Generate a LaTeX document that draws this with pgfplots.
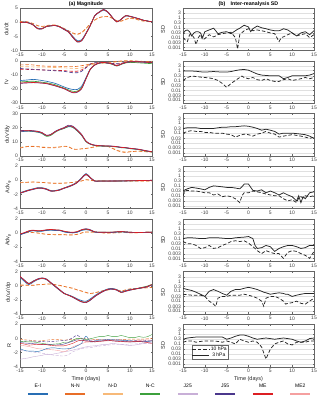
\documentclass[border=0pt]{standalone}
\usepackage{fontspec}
\setmainfont{Liberation Sans}
\usepackage{pgfplots}
\usepackage{pgfplotstable}
\pgfplotsset{compat=1.18}

\definecolor{cEI}{RGB}{40,110,180}
\definecolor{cNN}{RGB}{232,110,40}
\definecolor{cND}{RGB}{247,185,120}
\definecolor{cNC}{RGB}{60,160,60}
\definecolor{cJ25}{RGB}{200,175,215}
\definecolor{cJ55}{RGB}{75,55,140}
\definecolor{cME}{RGB}{220,30,35}
\definecolor{cME2}{RGB}{245,160,160}

% left column: x, solid 3 hPa curves, dashed 10 hPa curves
\pgfplotstableread{
x EI NC J55 ME NN ND
-15 -0.1 -0.2 -0.2 -0.2 0.2 0.0
-14 0.1 0.0 0.0 0.0 0.3 0.2
-13 -0.2 -0.3 -0.3 -0.3 0.0 -0.1
-12 -0.9 -1.0 -1.0 -1.0 -0.5 -0.6
-11 -2.1 -2.3 -2.3 -2.3 -1.2 -1.3
-10 -2.2 -2.3 -2.4 -2.3 -1.5 -1.6
-9 -1.5 -1.6 -1.5 -1.5 -1.2 -1.3
-8 -1.3 -1.3 -1.3 -1.3 -1.0 -1.1
-7 -1.2 -1.2 -1.2 -1.2 -1.0 -1.1
-6 -1.6 -1.6 -1.7 -1.6 -1.5 -1.6
-5 -2.4 -2.5 -2.6 -2.5 -2.2 -2.4
-4 -3.2 -3.4 -3.5 -3.4 -3.0 -3.2
-3 -5.0 -5.3 -5.4 -5.3 -3.8 -4.0
-2 -6.5 -6.8 -7.0 -6.9 -4.2 -4.4
-1 -6.2 -6.5 -6.6 -6.5 -3.6 -3.8
0 -3.8 -4.0 -4.1 -4.0 -2.2 -2.4
1 -1.0 -1.1 -1.1 -1.1 -0.5 -0.6
2 2.2 2.3 2.3 2.3 0.8 0.7
3 3.4 3.5 3.6 3.5 1.6 1.5
4 4.2 4.4 4.5 4.4 2.0 1.9
5 3.4 3.5 3.6 3.5 2.0 1.9
6 1.6 1.6 1.7 1.6 1.4 1.3
7 0.2 0.1 0.1 0.1 0.5 0.4
8 1.0 1.0 1.1 1.0 0.4 0.3
9 2.2 2.3 2.3 2.3 1.0 0.9
10 2.0 2.0 2.1 2.0 1.4 1.3
11 1.6 1.6 1.7 1.6 1.2 1.1
12 1.2 1.2 1.2 1.2 0.8 0.7
13 0.7 0.7 0.7 0.7 0.4 0.4
14 0.4 0.4 0.4 0.4 0.3 0.2
15 0.1 0.1 0.1 0.1 0.2 0.1
}\tA

\pgfplotstableread{
x EI NC J55 ME NN ND J55d MEd
-15 -14.0 -15.0 -16.0 -15.8 -3.0 -4.2 -5.5 -6.0
-14 -13.8 -14.8 -15.8 -15.6 -2.9 -4.3 -5.7 -6.1
-13 -13.5 -14.6 -15.6 -15.5 -2.8 -4.3 -5.9 -6.2
-12 -13.2 -14.5 -15.5 -15.4 -3.0 -4.4 -6.1 -6.3
-11 -13.5 -14.8 -15.6 -15.5 -3.5 -4.5 -6.3 -6.4
-10 -14.0 -15.2 -15.8 -15.8 -3.7 -4.5 -6.5 -6.5
-9 -14.5 -15.6 -16.2 -16.0 -3.9 -4.6 -6.7 -6.6
-8 -15.2 -16.2 -17.0 -16.8 -3.9 -4.7 -6.9 -6.7
-7 -16.0 -17.0 -17.8 -17.6 -3.9 -4.8 -7.1 -6.8
-6 -17.2 -18.2 -18.8 -18.6 -4.0 -4.9 -7.3 -6.9
-5 -18.5 -19.3 -19.8 -19.6 -4.2 -5.0 -7.5 -7.0
-4 -19.6 -20.6 -21.3 -21.2 -4.2 -5.2 -8.0 -7.3
-3 -20.3 -21.6 -22.6 -22.4 -4.2 -5.4 -8.5 -7.5
-2 -20.3 -21.5 -22.3 -22.0 -4.0 -5.5 -8.5 -7.4
-1 -18.0 -19.0 -19.8 -19.6 -3.5 -5.0 -7.5 -6.5
0 -12.0 -12.5 -12.8 -12.7 -3.0 -4.0 -5.0 -4.5
1 -5.8 -6.0 -6.0 -5.9 -2.3 -3.0 -2.5 -2.2
2 -3.0 -3.0 -3.1 -3.0 -2.0 -2.5 -1.5 -1.6
3 -1.6 -1.7 -1.7 -1.6 -1.6 -2.0 -1.4 -1.4
4 -1.2 -1.4 -1.3 -1.2 -1.4 -1.7 -1.4 -1.5
5 -1.6 -1.8 -1.7 -1.6 -1.2 -1.5 -1.6 -1.7
6 -2.3 -2.6 -2.4 -2.3 -0.9 -1.2 -1.9 -2.0
7 -3.5 -3.8 -3.6 -3.5 -0.5 -0.9 -2.2 -2.4
8 -2.3 -2.6 -2.4 -2.3 -0.2 -0.6 -1.8 -2.0
9 -1.2 -1.6 -1.3 -1.2 0.0 -0.4 -1.2 -1.4
10 -0.7 -1.2 -0.8 -0.7 0.0 -0.3 -0.8 -1.0
11 -0.6 -1.3 -0.7 -0.7 -0.2 -0.4 -0.7 -0.9
12 -0.7 -1.5 -0.8 -0.7 -0.3 -0.5 -0.8 -0.9
13 -0.9 -1.7 -1.0 -0.9 -0.5 -0.6 -0.9 -1.0
14 -1.1 -1.9 -1.2 -1.1 -0.6 -0.7 -1.0 -1.0
15 -1.2 -2.1 -1.3 -1.2 -0.7 -0.8 -1.0 -1.1
}\tB

\pgfplotstableread{
x EI NC J55 ME NN ND
-15 17.0 17.5 17.8 17.5 5.5 6.0
-14 17.3 17.6 18.0 17.7 6.2 6.5
-13 17.5 17.5 18.0 17.8 6.7 6.8
-12 17.3 17.2 17.8 17.6 6.6 6.9
-11 16.8 16.8 17.4 17.2 6.5 6.7
-10 16.0 15.8 16.5 16.3 6.0 6.4
-9 14.3 13.8 14.6 14.5 5.8 6.1
-8 15.0 14.5 15.2 15.0 5.8 6.0
-7 17.0 16.7 17.3 17.1 5.8 6.2
-6 18.5 18.3 18.8 18.6 6.2 6.5
-5 19.5 19.3 20.0 19.7 6.7 6.8
-4 20.8 20.6 21.6 21.2 6.5 6.6
-3 20.3 20.1 21.0 20.6 4.8 5.0
-2 17.8 17.6 18.4 18.0 4.6 4.8
-1 14.6 14.5 15.2 14.9 5.0 5.0
0 10.2 10.0 10.5 10.3 5.3 5.2
1 8.3 8.2 8.5 8.4 5.8 5.6
2 7.4 7.3 7.6 7.5 6.5 6.2
3 7.1 7.0 7.3 7.2 7.2 6.8
4 6.9 6.8 7.1 7.0 7.2 7.0
5 6.9 6.8 7.1 7.0 6.7 6.6
6 6.7 6.6 6.9 6.8 5.3 5.6
7 6.4 6.3 6.6 6.5 3.8 4.2
8 5.9 5.8 6.1 6.0 2.9 3.3
9 5.7 5.6 5.9 5.8 2.4 2.8
10 5.2 5.1 5.4 5.3 2.9 3.0
11 4.9 4.8 5.1 5.0 3.2 3.2
12 4.5 4.4 4.7 4.6 3.4 3.3
13 3.9 3.8 4.1 4.0 3.1 3.0
14 3.3 3.2 3.5 3.4 2.9 2.8
15 2.8 2.7 3.0 2.9 2.9 2.7
}\tC

\pgfplotstableread{
x EI NC J55 ME NN ND
-15 -1.75 -1.85 -1.85 -1.8 -0.35 -0.3
-14 -1.55 -1.6 -1.65 -1.6 -0.32 -0.28
-13 -1.35 -1.4 -1.45 -1.4 -0.28 -0.25
-12 -1.2 -1.25 -1.3 -1.25 -0.25 -0.25
-11 -1.05 -1.1 -1.15 -1.1 -0.27 -0.28
-10 -1.05 -1.1 -1.15 -1.1 -0.3 -0.32
-9 -1.2 -1.25 -1.3 -1.25 -0.35 -0.36
-8 -1.45 -1.5 -1.55 -1.5 -0.4 -0.4
-7 -1.45 -1.5 -1.5 -1.5 -0.42 -0.42
-6 -1.3 -1.35 -1.4 -1.35 -0.42 -0.42
-5 -1.1 -1.1 -1.15 -1.1 -0.4 -0.4
-4 -0.85 -0.9 -0.95 -0.9 -0.36 -0.36
-3 -0.6 -0.65 -0.7 -0.65 -0.3 -0.3
-2 -0.25 -0.3 -0.35 -0.3 -0.2 -0.22
-1 0.35 0.3 0.25 0.3 -0.1 -0.1
0 0.95 0.85 0.8 0.85 0.1 0.05
1 0.4 0.35 0.3 0.35 0.0 -0.02
2 -0.1 -0.1 -0.12 -0.1 -0.08 -0.1
3 -0.1 -0.12 -0.12 -0.1 -0.1 -0.1
4 -0.1 -0.1 -0.12 -0.1 -0.1 -0.1
5 -0.1 -0.12 -0.12 -0.1 -0.1 -0.12
6 -0.1 -0.12 -0.1 -0.1 -0.1 -0.12
7 -0.1 -0.1 -0.1 -0.1 -0.1 -0.1
8 -0.08 -0.1 -0.1 -0.08 -0.1 -0.1
9 -0.08 -0.08 -0.1 -0.08 -0.1 -0.1
10 -0.06 -0.08 -0.08 -0.06 -0.1 -0.1
11 -0.05 -0.06 -0.08 -0.05 -0.1 -0.1
12 -0.04 -0.05 -0.06 -0.04 -0.1 -0.1
13 -0.03 -0.04 -0.05 -0.03 -0.1 -0.1
14 -0.02 -0.03 -0.04 -0.02 -0.1 -0.1
15 0.0 -0.02 -0.02 0.0 -0.1 -0.1
}\tD

\pgfplotstableread{
x EI NC J55 ME NN ND
-15 -0.25 -0.2 -0.2 -0.15 -0.2 -0.15
-14 -0.05 0.0 0.0 0.05 -0.05 0.0
-13 0.2 0.25 0.25 0.3 0.1 0.1
-12 0.3 0.35 0.35 0.4 0.05 0.05
-11 0.25 0.25 0.3 0.3 0.0 0.0
-10 0.25 0.3 0.3 0.35 -0.1 -0.1
-9 0.35 0.4 0.4 0.45 -0.2 -0.15
-8 0.4 0.45 0.45 0.5 -0.22 -0.2
-7 0.35 0.4 0.4 0.45 -0.25 -0.2
-6 0.35 0.4 0.4 0.4 -0.25 -0.22
-5 0.15 0.2 0.2 0.25 -0.25 -0.22
-4 0.05 0.1 0.1 0.15 -0.3 -0.25
-3 0.0 0.05 0.05 0.1 -0.28 -0.25
-2 0.1 0.15 0.15 0.2 -0.2 -0.18
-1 0.35 0.4 0.45 0.45 0.0 0.0
0 0.45 0.5 0.6 0.55 0.15 0.1
1 0.35 0.4 0.45 0.4 0.15 0.1
2 0.1 0.15 0.15 0.15 0.1 0.1
3 0.05 0.1 0.1 0.1 0.05 0.05
4 0.05 0.1 0.1 0.1 0.0 0.02
5 0.05 0.1 0.08 0.1 0.0 0.0
6 0.08 0.1 0.1 0.12 0.0 0.02
7 0.12 0.15 0.15 0.16 0.02 0.05
8 0.15 0.2 0.2 0.2 0.05 0.08
9 0.1 0.15 0.15 0.15 0.05 0.05
10 0.08 0.1 0.1 0.1 0.02 0.02
11 0.05 0.08 0.08 0.08 0.0 0.02
12 0.05 0.06 0.06 0.05 0.05 0.05
13 0.06 0.08 0.08 0.08 0.08 0.08
14 0.08 0.1 0.1 0.1 0.1 0.1
15 0.1 0.1 0.12 0.1 0.1 0.12
}\tE

\pgfplotstableread{
x EI NC J55 ME NN ND
-15 1.2 1.3 1.3 1.3 0.05 0.1
-14 0.6 0.75 0.8 0.75 0.05 0.1
-13 0.15 0.3 0.3 0.25 0.05 0.1
-12 0.5 0.65 0.65 0.6 0.05 0.05
-11 0.85 0.9 0.95 0.9 0.15 0.1
-10 1.0 1.05 1.1 1.05 0.15 0.15
-9 0.85 0.9 0.95 0.9 0.25 0.2
-8 0.35 0.4 0.45 0.4 0.25 0.2
-7 -0.15 -0.1 -0.05 -0.1 0.15 0.1
-6 -0.65 -0.6 -0.55 -0.6 0.05 0.0
-5 -1.1 -1.1 -1.05 -1.1 -0.1 -0.1
-4 -1.3 -1.35 -1.35 -1.35 -0.25 -0.25
-3 -1.55 -1.6 -1.65 -1.6 -0.35 -0.4
-2 -1.85 -1.95 -2.0 -1.95 -0.6 -0.6
-1 -2.1 -2.25 -2.3 -2.25 -0.75 -0.8
0 -2.2 -2.35 -2.4 -2.35 -0.95 -1.0
1 -1.85 -2.0 -2.05 -2.0 -1.1 -1.1
2 -1.4 -1.5 -1.55 -1.5 -1.0 -1.0
3 -1.0 -1.1 -1.15 -1.1 -0.85 -0.85
4 -0.7 -0.75 -0.8 -0.75 -0.7 -0.7
5 -0.45 -0.5 -0.55 -0.5 -0.6 -0.6
6 -0.4 -0.45 -0.5 -0.45 -0.5 -0.5
7 -0.55 -0.6 -0.65 -0.6 -0.6 -0.6
8 -0.9 -0.95 -0.95 -0.95 -0.75 -0.75
9 -0.7 -0.75 -0.8 -0.75 -0.6 -0.6
10 -0.55 -0.6 -0.65 -0.6 -0.45 -0.5
11 -0.45 -0.5 -0.5 -0.5 -0.4 -0.45
12 -0.35 -0.35 -0.4 -0.35 -0.35 -0.4
13 -0.25 -0.2 -0.3 -0.25 -0.3 -0.35
14 -0.1 -0.05 -0.15 -0.1 -0.3 -0.3
15 0.1 0.2 0.1 0.15 -0.25 -0.25
}\tF

\pgfplotstableread{
x EI NC J25 J55 ME ME2 NN J55d J25d
-15 -1.45 -0.4 -2.95 -0.6 -0.7 -0.95 -0.1 -0.4 -1.65
-14 -1.7 -0.45 -2.85 -0.65 -0.8 -1.05 -0.2 -0.4 -1.75
-13 -1.8 -0.5 -2.75 -0.7 -0.95 -1.15 -0.25 -0.35 -1.85
-12 -1.8 -0.5 -2.6 -0.75 -0.9 -1.3 -0.3 -0.4 -1.95
-11 -1.85 -0.6 -2.5 -0.8 -0.85 -1.45 -0.4 -0.4 -2.0
-10 -1.7 -0.7 -2.4 -0.85 -0.85 -1.5 -0.3 -0.45 -2.1
-9 -1.45 -0.8 -2.25 -0.85 -0.9 -1.55 -0.25 -0.5 -2.2
-8 -1.35 -0.85 -2.3 -0.9 -1.0 -1.6 -0.2 -0.45 -2.3
-7 -1.35 -0.8 -2.15 -0.95 -1.05 -1.65 -0.15 -0.4 -2.4
-6 -1.45 -0.75 -2.05 -0.9 -1.05 -1.75 -0.2 -0.35 -2.45
-5 -1.5 -0.55 -1.9 -0.8 -1.05 -1.9 -0.25 -0.3 -2.5
-4 -1.45 -0.55 -1.8 -0.6 -0.9 -1.6 -0.2 -0.2 -2.3
-3 -1.35 -0.25 -1.65 -0.4 -0.7 -1.2 -0.15 0.1 -1.9
-2 -1.05 0.0 -1.5 -0.2 -0.4 -0.95 -0.1 0.45 -1.65
-1 -0.7 -0.05 -1.35 -0.3 -0.25 -0.75 0.0 0.0 -1.45
0 0.3 -0.2 -1.2 -0.35 -0.4 -0.55 -0.05 -0.25 -1.35
1 -0.5 -0.05 -1.1 -0.4 -0.4 -0.5 -0.1 -0.25 -1.3
2 -0.4 0.1 -1.05 -0.45 -0.5 -0.5 -0.15 -0.25 -1.2
3 -0.25 0.25 -0.95 -0.4 -0.4 -0.45 -0.2 -0.2 -1.1
4 -0.25 0.25 -0.85 -0.35 -0.35 -0.4 -0.2 -0.2 -1.0
5 -0.2 0.4 -0.85 -0.3 -0.25 -0.35 -0.2 -0.15 -0.95
6 -0.2 0.25 -0.7 -0.35 -0.35 -0.3 -0.2 -0.2 -0.9
7 -0.25 0.25 -0.8 -0.4 -0.4 -0.35 -0.2 -0.2 -0.9
8 -0.25 0.4 -0.85 -0.4 -0.45 -0.4 -0.15 -0.25 -0.9
9 -0.3 0.25 -0.95 -0.45 -0.5 -0.45 -0.15 -0.25 -0.85
10 -0.35 0.1 -1.0 -0.5 -0.5 -0.5 -0.1 -0.3 -0.8
11 -0.4 0.1 -0.95 -0.5 -0.45 -0.4 -0.1 -0.3 -0.8
12 -0.45 0.25 -0.85 -0.45 -0.45 -0.3 -0.1 -0.25 -0.75
13 -0.5 0.15 -0.75 -0.45 -0.5 -0.25 -0.1 -0.25 -0.7
14 -0.45 0.25 -0.6 -0.4 -0.6 -0.2 -0.05 -0.3 -0.7
15 -0.35 0.55 -0.55 -0.35 -0.7 -0.3 0.0 -0.3 -0.7
}\tG

% right column: inter-reanalysis SD, s = 3 hPa, d = 10 hPa
\pgfplotstableread{
x s d
-15 0.025 0.01
-14.5 0.05 0.006
-14 0.06 0.004
-13.5 0.04 0.02
-13 0.015 0.02
-12.5 0.03 0.01
-12 0.04 0.002
-11.5 0.04 0.01
-11 0.03 0.02
-10.5 0.01 0.006
-10 0.04 0.008
-9 0.06 0.02
-8 0.09 0.012
-7.5 0.05 0.015
-7 0.025 0.02
-6 0.035 0.025
-5 0.04 0.03
-4 0.025 0.035
-3 0.05 0.01
-2.5 0.07 0.0007
-2 0.09 0.02
-1 0.18 0.05
0 0.12 0.08
0.5 0.04 0.06
1 0.08 0.05
2 0.15 0.06
3 0.1 0.05
4 0.08 0.04
5 0.06 0.03
6 0.05 0.025
7 0.05 0.004
7.5 0.06 0.01
8 0.08 0.012
9 0.06 0.02
10 0.03 0.03
11 0.015 0.015
12 0.03 0.02
13 0.04 0.025
14 0.02 0.01
15 0.05 0.02
}\rA

\pgfplotstableread{
x s d
-15 0.9 0.1
-14 0.9 0.2
-13 0.9 0.28
-12 0.85 0.25
-11 0.75 0.22
-10 0.7 0.2
-9 0.75 0.18
-8 0.8 0.15
-7 0.75 0.1
-6 0.7 0.05
-5 0.7 0.02
-4 0.8 0.05
-3 1.0 0.1
-2 1.2 0.2
-1.5 1.25 0.28
-1 1.3 0.2
0 1.1 0.15
1 0.7 0.2
2 0.45 0.12
3 0.35 0.1
4 0.32 0.15
5 0.3 0.1
6 0.3 0.08
7 0.3 0.08
8 0.15 0.12
9 0.2 0.15
10 0.3 0.1
11 0.3 0.12
12 0.3 0.15
13 0.3 0.2
14 0.35 0.15
15 0.5 0.2
}\rB

\pgfplotstableread{
x s d
-15 0.3 0.1
-14 0.35 0.15
-13 0.35 0.18
-12 0.35 0.15
-11 0.3 0.15
-10 0.3 0.12
-9 0.3 0.12
-8 0.3 0.1
-7 0.35 0.1
-6 0.4 0.1
-5 0.4 0.08
-4 0.45 0.07
-3 0.45 0.04
-2 0.5 0.06
-1 0.55 0.08
0 0.5 0.07
1 0.4 0.05
2 0.3 0.08
3 0.2 0.1
4 0.25 0.15
5 0.2 0.1
6 0.15 0.08
7 0.08 0.04
8 0.1 0.05
9 0.1 0.06
10 0.1 0.07
11 0.09 0.06
12 0.08 0.05
13 0.07 0.04
14 0.05 0.03
15 0.03 0.04
}\rC

\pgfplotstableread{
x s d
-15 0.03 0.01
-14.5 0.04 0.03
-14 0.05 0.035
-13 0.07 0.03
-12 0.06 0.03
-11 0.05 0.025
-10 0.04 0.02
-9 0.07 0.02
-8 0.1 0.012
-7 0.09 0.015
-6 0.08 0.008
-5 0.07 0.01
-4 0.07 0.008
-3 0.06 0.005
-2 0.05 0.002
-1.5 0.08 0.01
-1 0.15 0.02
0 0.15 0.02
1 0.035 0.03
2 0.03 0.025
3 0.04 0.02
4 0.02 0.015
5 0.03 0.012
6 0.02 0.01
7 0.012 0.01
8 0.02 0.005
9 0.012 0.003
10 0.008 0.004
11 0.003 0.002
11.5 0.01 0.006
12 0.002 0.008
12.5 0.008 0.006
13 0.005 0.01
14 0.02 0.008
15 0.025 0.01
}\rD

\pgfplotstableread{
x s d
-15 0.1 0.05
-14 0.12 0.03
-13 0.12 0.03
-12 0.11 0.02
-11 0.1 0.01
-10 0.1 0.012
-9 0.12 0.02
-8 0.12 0.01
-7 0.12 0.012
-6 0.11 0.02
-5 0.1 0.03
-4 0.1 0.05
-3 0.12 0.06
-2 0.13 0.05
-1 0.14 0.06
0 0.16 0.035
1 0.1 0.015
1.5 0.02 0.01
2 0.01 0.006
3 0.012 0.003
4 0.02 0.006
5 0.015 0.004
6 0.005 0.003
7 0.01 0.003
8 0.015 0.001
9 0.02 0.004
10 0.02 0.006
11 0.015 0.005
12 0.01 0.003
13 0.012 0.002
14 0.02 0.001
15 0.02 0.005
}\rE

\pgfplotstableread{
x s d
-15 0.2 0.05
-14 0.15 0.045
-13 0.12 0.04
-12 0.08 0.04
-11 0.05 0.04
-10 0.03 0.03
-9 0.1 0.01
-8 0.15 0.005
-7.5 0.12 0.003
-7 0.1 0.02
-6 0.06 0.03
-5 0.04 0.03
-4 0.1 0.04
-3 0.15 0.04
-2 0.15 0.04
-1 0.2 0.05
0 0.25 0.04
1 0.2 0.03
2 0.15 0.02
3 0.1 0.01
3.5 0.08 0.003
4 0.07 0.02
5 0.05 0.03
6 0.06 0.03
7 0.07 0.02
8 0.06 0.01
8.5 0.05 0.005
9 0.05 0.006
10 0.03 0.007
11 0.04 0.01
12 0.05 0.006
13 0.06 0.005
14 0.06 0.01
15 0.06 0.02
}\rF

\pgfplotstableread{
x s d
-15 0.3 0.15
-14 0.4 0.2
-13 0.45 0.2
-12 0.5 0.15
-11 0.5 0.18
-10 0.5 0.2
-9 0.5 0.2
-8 0.5 0.2
-7 0.5 0.18
-6 0.5 0.15
-5 0.3 0.2
-4 0.4 0.15
-3 0.6 0.1
-2 0.8 0.3
-1 0.8 0.2
0 0.6 0.15
1 0.4 0.2
2 0.3 0.15
3 0.35 0.05
4 0.4 0.003
5 0.35 0.03
6 0.3 0.1
7 0.35 0.15
8 0.4 0.2
9 0.35 0.1
10 0.3 0.08
11 0.2 0.15
12 0.15 0.15
13 0.2 0.15
14 0.35 0.2
15 0.4 0.2
}\rG

\pgfplotsset{
  every axis title shift=0pt,
  base/.style={scale only axis, anchor=north west, height=85pt,
    xmin=-15, xmax=15, xtick={-15,-10,-5,0,5,10,15},
    tick align=inside, major tick length=3pt,
    axis line style={black!60}, every tick/.style={black!60},
    tick label style={font=\fontsize{10}{11}\selectfont, text=black!75},
    xticklabel style={yshift=-1.5pt},
    yticklabel style={xshift=-0.5pt},
    label style={font=\fontsize{11}{12}\selectfont, text=black!85},
    title style={font=\bfseries\fontsize{10.5}{12}\selectfont,
      at={(0.5,1)}, anchor=south, inner sep=0pt, yshift=3pt},
    /pgf/number format/assume math mode=true},
  lcol/.style={base, width=264pt, ylabel style={yshift=-2pt}},
  rcol/.style={base, width=262pt, ymin=5e-4, ymax=10,
    ytick={0.001,0.003,0.01,0.03,0.1,0.3,1,3},
    yticklabels={0.001,0.003,0.01,0.03,0.1,0.3,1,3},
    ymajorgrids, grid style={black!12}, ylabel={SD}},
  sol/.style={line width=1.3pt, smooth, tension=0.5},
  dsh/.style={line width=1.3pt, smooth, tension=0.5, dash pattern=on 7pt off 4pt},
  thn/.style={line width=0.8pt, smooth, tension=0.5},
  tdsh/.style={line width=0.8pt, smooth, tension=0.5, dash pattern=on 6pt off 3pt},
  blk/.style={black!85, line width=1.5pt},
  bdsh/.style={black!85, line width=1.5pt, dash pattern=on 7pt off 4pt},
}

\newcommand\lset[1]{%
  \addplot[dsh,cND] table[y=ND]{#1};
  \addplot[dsh,cNN] table[y=NN]{#1};
  \addplot[sol,cNC] table[y=NC]{#1};
  \addplot[sol,cEI] table[y=EI]{#1};
  \addplot[sol,cJ55] table[y=J55]{#1};
  \addplot[sol,cME] table[y=ME]{#1};
}
\newcommand\rset[1]{%
  \addplot[bdsh] table[y=d]{#1};
  \addplot[blk] table[y=s]{#1};
}
% legend cell: name above a coloured bar
\newcommand\lgd[2]{\vbox{\hbox to 75pt{\hss #2\hss}\kern5pt
  \hbox to 75pt{\hss\textcolor{#1}{\rule{40pt}{5pt}}\hss}}}

\begin{document}
\begin{tikzpicture}
\useasboundingbox (0,0) rectangle (640pt,792pt);

% ---- left column ----
\begin{axis}[lcol, at={(40pt,776pt)}, ymin=-10, ymax=5, ytick={-10,-5,0,5},
  ylabel={du/dt}, title={(a) Magnitude}]
\lset{\tA}
\end{axis}
\begin{axis}[lcol, at={(40pt,670.6pt)}, ymin=-30, ymax=0, ytick={-30,-20,-10,0},
  ylabel={fv}]
\addplot[dsh,cME] table[y=MEd]{\tB};
\addplot[dsh,cJ55] table[y=J55d]{\tB};
\lset{\tB}
\end{axis}
\begin{axis}[lcol, at={(40pt,565.2pt)}, ymin=0, ymax=30, ytick={0,10,20,30},
  ylabel={du'v'/dy}]
\lset{\tC}
\end{axis}
\begin{axis}[lcol, at={(40pt,459.8pt)}, ymin=-4, ymax=2, ytick={-4,-2,0,2},
  ylabel={Adv\textsubscript{φ}}]
\lset{\tD}
\end{axis}
\begin{axis}[lcol, at={(40pt,354.4pt)}, ymin=-4, ymax=2, ytick={-4,-2,0,2},
  ylabel={Adv\textsubscript{p}}]
\lset{\tE}
\end{axis}
\begin{axis}[lcol, at={(40pt,249pt)}, ymin=-4, ymax=2, ytick={-4,-2,0,2},
  ylabel={du'ω'/dp}]
\lset{\tF}
\end{axis}
\begin{axis}[lcol, at={(40pt,143.6pt)}, ymin=-4, ymax=2, ytick={-4,-2,0,2},
  ylabel={R}, xlabel={Time (days)}]
\addplot[tdsh,cJ25] table[y=J25d]{\tG};
\addplot[tdsh,cNN] table[y=NN]{\tG};
\addplot[tdsh,cJ55] table[y=J55d]{\tG};
\addplot[thn,cJ25] table[y=J25]{\tG};
\addplot[thn,cME2] table[y=ME2]{\tG};
\addplot[thn,cNC] table[y=NC]{\tG};
\addplot[thn,cEI] table[y=EI]{\tG};
\addplot[thn,cJ55] table[y=J55]{\tG};
\addplot[thn,cME] table[y=ME]{\tG};
\end{axis}

% ---- right column ----
\begin{semilogyaxis}[rcol, at={(366pt,776pt)}, title={(b)\quad Inter-reanalysis SD}]
\rset{\rA}
\end{semilogyaxis}
\begin{semilogyaxis}[rcol, at={(366pt,670.6pt)}]
\rset{\rB}
\end{semilogyaxis}
\begin{semilogyaxis}[rcol, at={(366pt,565.2pt)}]
\rset{\rC}
\end{semilogyaxis}
\begin{semilogyaxis}[rcol, at={(366pt,459.8pt)}]
\rset{\rD}
\end{semilogyaxis}
\begin{semilogyaxis}[rcol, at={(366pt,354.4pt)}]
\rset{\rE}
\end{semilogyaxis}
\begin{semilogyaxis}[rcol, at={(366pt,249pt)}]
\rset{\rF}
\end{semilogyaxis}
\begin{semilogyaxis}[rcol, at={(366pt,143.6pt)}, xlabel={Time (days)},
  legend style={at={(0.065,0.5)}, anchor=north west, draw=black!60,
    font=\fontsize{10}{11}\selectfont, inner sep=1pt, row sep=-1pt},
  legend image code/.code={\draw[#1] (0pt,0pt) -- (34pt,0pt);}]
\rset{\rG}
\legend{10 hPa, 3 hPa}
\end{semilogyaxis}

% ---- shared legend ----
\begin{axis}[hide axis, scale only axis, width=600pt, height=10pt,
  at={(38pt,0pt)}, anchor=south west, xmin=0, xmax=1, ymin=0, ymax=1,
  legend columns=8,
  legend style={draw=none, fill=none, at={(0.5,0)}, anchor=south,
    inner sep=0pt, outer sep=0pt, nodes={inner sep=0pt, outer sep=0pt},
    column sep=0pt, font=\fontsize{10}{11}\selectfont},
  legend image code/.code={}]
\addlegendimage{cEI}\addlegendentry{\lgd{cEI}{E-I}}
\addlegendimage{cNN}\addlegendentry{\lgd{cNN}{N-N}}
\addlegendimage{cND}\addlegendentry{\lgd{cND}{N-D}}
\addlegendimage{cNC}\addlegendentry{\lgd{cNC}{N-C}}
\addlegendimage{cJ25}\addlegendentry{\lgd{cJ25}{J25}}
\addlegendimage{cJ55}\addlegendentry{\lgd{cJ55}{J55}}
\addlegendimage{cME}\addlegendentry{\lgd{cME}{ME}}
\addlegendimage{cME2}\addlegendentry{\lgd{cME2}{ME2}}
\end{axis}
\end{tikzpicture}
\end{document}
